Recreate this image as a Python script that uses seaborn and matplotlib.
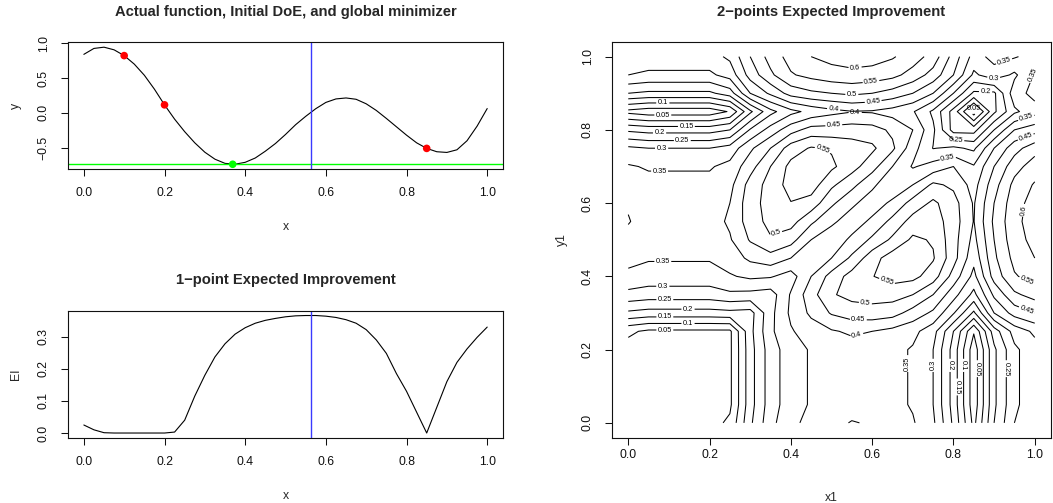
import numpy as np
import pandas as pd
import matplotlib
matplotlib.use("Agg")
import matplotlib.pyplot as plt
import seaborn as sns

# ---- data ------------------------------------------------------------------
x_grid = np.linspace(0, 1, 41)

# actual function (top-left panel)
f_vals = [0.84, 0.925, 0.943, 0.905, 0.822, 0.70, 0.54, 0.34, 0.115, -0.09,
          -0.27, -0.43, -0.565, -0.665, -0.725, -0.737, -0.71, -0.648, -0.55, -0.44,
          -0.31, -0.17, -0.05, 0.06, 0.15, 0.20, 0.214, 0.195, 0.13, 0.035,
          -0.08, -0.20, -0.32, -0.43, -0.51, -0.558, -0.568, -0.53, -0.40, -0.19,
          0.062]

# 1-point expected improvement (bottom-left panel)
ei_vals = [0.025, 0.01, 0.001, 0, 0, 0, 0, 0, 0, 0.003,
           0.04, 0.115, 0.18, 0.237, 0.278, 0.308, 0.328, 0.342, 0.351, 0.357,
           0.362, 0.365, 0.366, 0.366, 0.364, 0.36, 0.353, 0.342, 0.322, 0.29,
           0.248, 0.185, 0.13, 0.065, 0.0, 0.08, 0.16, 0.22, 0.262, 0.298,
           0.33]

doe_x = [0.1, 0.2, 0.85]
doe_y = [0.822, 0.115, -0.51]
best_x = [0.369]
best_y = [-0.738]
x_new = 0.562

# 2-points EI on a 21x21 grid (symmetric); column i holds x1 = grid[i], y1 = grid[i:]
grid = np.linspace(0, 1, 21)
qei_cols = [
    [.03, .03, .03, .03, .03, .06, .19, .285, .338, .365, .385, .403, .395, .38, .355, .31, .19, .035, .20, .30, .34],
    [.005, .005, .005, .005, .04, .18, .276, .328, .355, .37, .378, .378, .365, .345, .30, .18, .02, .19, .29, .33],
    [0, 0, 0, .04, .18, .276, .328, .355, .37, .378, .378, .365, .345, .30, .18, .02, .19, .29, .33],
    [0, 0, .04, .18, .276, .328, .355, .37, .378, .378, .365, .345, .30, .18, .02, .19, .29, .33],
    [0, .04, .18, .276, .328, .355, .37, .378, .378, .365, .345, .30, .18, .02, .19, .29, .33],
    [.04, .185, .29, .345, .375, .395, .408, .40, .385, .365, .32, .20, .055, .225, .32, .36],
    [.18, .285, .36, .41, .455, .475, .48, .47, .43, .39, .305, .19, .35, .42, .45],
    [.276, .355, .43, .495, .515, .52, .52, .50, .45, .37, .285, .41, .49, .52],
    [.328, .40, .47, .52, .548, .57, .565, .525, .43, .335, .47, .545, .57],
    [.355, .40, .46, .53, .575, .58, .555, .47, .365, .49, .565, .60],
    [.37, .41, .46, .51, .56, .545, .47, .385, .50, .58, .615],
    [.375, .41, .465, .52, .525, .475, .398, .51, .585, .625],
    [.375, .41, .47, .51, .47, .395, .50, .58, .62],
    [.365, .40, .46, .44, .38, .48, .565, .605],
    [.345, .37, .40, .355, .45, .53, .575],
    [.298, .31, .29, .40, .48, .53],
    [.18, .18, .30, .40, .43],
    [.02, .19, .29, .33],
    [.19, .33, .365],
    [.29, .355],
    [.33],
]
levels = [0.05, 0.1, 0.15, 0.2, 0.25, 0.3, 0.35, 0.4, 0.45, 0.5, 0.55, 0.6]

# where the contour labels sit in the reference
label_pos = [(0.085, 0.873), (0.085, 0.836), (0.143, 0.809), (0.077, 0.792), (0.133, 0.768),
             (0.082, 0.735), (0.077, 0.680), (0.472, 0.735), (0.366, 0.507),
             (0.558, 0.969), (0.598, 0.921), (0.55, 0.891), (0.603, 0.874), (0.505, 0.855),
             (0.558, 0.842), (0.505, 0.821), (0.926, 0.982), (0.989, 0.953), (0.90, 0.944),
             (0.879, 0.903), (0.847, 0.862), (0.806, 0.773), (0.786, 0.725), (0.981, 0.825),
             (0.981, 0.771), (0.973, 0.58),
             (0.085, 0.425), (0.085, 0.364), (0.09, 0.33), (0.147, 0.305), (0.09, 0.284),
             (0.147, 0.267), (0.09, 0.251),
             (0.635, 0.382), (0.582, 0.314), (0.566, 0.28), (0.562, 0.241), (0.678, 0.162),
             (0.737, 0.157), (0.792, 0.157), (0.822, 0.157), (0.81, 0.098), (0.857, 0.148),
             (0.928, 0.148), (0.981, 0.389), (0.98, 0.307)]

z = np.zeros((21, 21))
for i, col in enumerate(qei_cols):
    for k, v in enumerate(col):
        z[i + k, i] = v
        z[i, i + k] = v

# ---- style --------------------------------------------------------------------
sns.set_style("ticks")
plt.rcParams['font.family'] = ['Liberation Sans', 'DejaVu Sans']
plt.rcParams['axes.unicode_minus'] = True
TICK = 8.8
TITLE = 10.6
ink = '#111111'
blue = '#3a3aff'


def r_axes(ax, xticks, xlabels, yticks, ylabels, xpad=8.0, ypad=8.0):
    ax.set_xticks(xticks)
    ax.set_xticklabels(xlabels)
    ax.set_yticks(yticks)
    ax.set_yticklabels(ylabels, rotation=90, va='center')
    ax.tick_params(direction='out', length=5, width=0.75, labelsize=TICK,
                   colors=ink)
    ax.tick_params(axis='x', pad=xpad)
    ax.tick_params(axis='y', pad=ypad)
    for s in ax.spines.values():
        s.set_visible(True)
        s.set_linewidth(0.8)
        s.set_color(ink)


fig = plt.figure(figsize=(10.53, 5.03), dpi=100)
ax1 = fig.add_axes([0.0643, 0.664, 0.4137, 0.2519])
ax2 = fig.add_axes([0.0643, 0.1298, 0.4137, 0.2525])
ax3 = fig.add_axes([0.5812, 0.1302, 0.4169, 0.7863])

xt = [0, 0.2, 0.4, 0.6, 0.8, 1.0]
xtl = ['0.0', '0.2', '0.4', '0.6', '0.8', '1.0']

# top-left: actual function
fun_df = pd.DataFrame({'x': x_grid, 'y': f_vals, 'EI': ei_vals})
sns.lineplot(data=fun_df, x='x', y='y', ax=ax1, color='black', lw=0.8)
ax1.axhline(best_y[0], color='#00ff00', lw=1.0)
ax1.axvline(x_new, color=blue, lw=1.0)
sns.scatterplot(x=doe_x, y=doe_y, ax=ax1, color='#ff0000', s=30, edgecolor='none', zorder=4)
sns.scatterplot(x=best_x, y=best_y, ax=ax1, color='#00ff00', s=30, edgecolor='none', zorder=4)
ax1.set_xlim(-0.04, 1.04)
ax1.set_ylim(-0.806, 1.013)
r_axes(ax1, xt, xtl, [-0.5, 0, 0.5, 1.0], ['\u22120.5', '0.0', '0.5', '1.0'], ypad=8)
ax1.set_xlabel('x', fontsize=TICK, labelpad=16)
ax1.set_ylabel('y', fontsize=TICK, labelpad=11)
ax1.set_title('Actual function, Initial DoE, and global minimizer',
              fontsize=TITLE, fontweight='bold', pad=19)

# bottom-left: 1-point EI
sns.lineplot(data=fun_df, x='x', y='EI', ax=ax2, color='black', lw=0.8)
ax2.axvline(x_new, color=blue, lw=1.0)
ax2.set_xlim(-0.04, 1.04)
ax2.set_ylim(-0.0146, 0.381)
r_axes(ax2, xt, xtl, [0, 0.1, 0.2, 0.3], ['0.0', '0.1', '0.2', '0.3'], ypad=8)
ax2.set_xlabel('x', fontsize=TICK, labelpad=16)
ax2.set_ylabel('EI', fontsize=TICK, labelpad=11)
ax2.set_title('1\u2212point Expected Improvement', fontsize=TITLE, fontweight='bold', pad=19)

# right: 2-points EI contours
cs = ax3.contour(grid, grid, z, levels=levels, colors='black', linewidths=0.75)
ax3.clabel(cs, fontsize=5.3, inline=True, inline_spacing=2,
           fmt=lambda v: f'{round(v, 2):g}', manual=label_pos)
ax3.set_xlim(-0.04, 1.04)
ax3.set_ylim(-0.04, 1.04)
r_axes(ax3, xt, xtl, xt, xtl, xpad=3.5, ypad=8)
ax3.set_xlabel('x1', fontsize=TICK, labelpad=22)
ax3.set_ylabel('y1', fontsize=TICK, labelpad=10)
ax3.set_title('2\u2212points Expected Improvement', fontsize=TITLE, fontweight='bold', pad=19)

fig.savefig('out.png', dpi=100)
